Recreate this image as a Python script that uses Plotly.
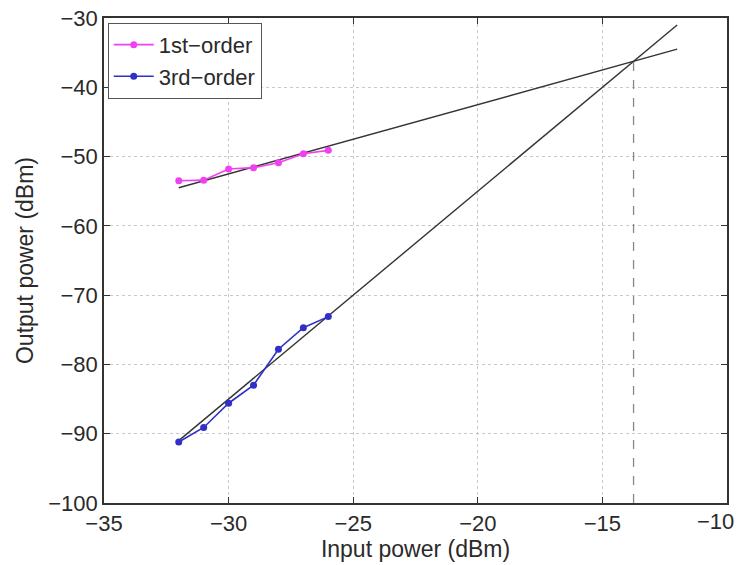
import plotly.graph_objects as go

input_power = [-32, -31, -30, -29, -28, -27, -26]
first_order = [-53.5, -53.4, -51.8, -51.6, -50.9, -49.6, -49.1]
third_order = [-91.2, -89.1, -85.6, -83.0, -77.8, -74.7, -73.1]

fit_x = [-32, -12]
fit1_y = [-54.5, -34.5]
fit3_y = [-91.0, -31.0]

ip3_x = [-13.75, -13.75]
ip3_y = [-100, -36.25]

x_ticks = [-35, -30, -25, -20, -15, -10]
y_ticks = [-100, -90, -80, -70, -60, -50, -40, -30]

FONT = "Liberation Sans, Arial, sans-serif"
TXT = "#2a2a2a"

fig = go.Figure()

fig.add_trace(go.Scatter(x=fit_x, y=fit1_y, mode="lines", line=dict(color="#333333", width=1.4),
                         showlegend=False, hoverinfo="skip"))
fig.add_trace(go.Scatter(x=fit_x, y=fit3_y, mode="lines", line=dict(color="#333333", width=1.4),
                         showlegend=False, hoverinfo="skip"))
fig.add_trace(go.Scatter(x=ip3_x, y=ip3_y, mode="lines",
                         line=dict(color="#888888", width=1.3, dash="dash"),
                         showlegend=False, hoverinfo="skip"))

fig.add_trace(go.Scatter(x=input_power, y=first_order, mode="lines+markers", name="1st\u2212order",
                         line=dict(color="#f040f0", width=1.6),
                         marker=dict(color="#f040f0", size=7, symbol="circle")))
fig.add_trace(go.Scatter(x=input_power, y=third_order, mode="lines+markers", name="3rd\u2212order",
                         line=dict(color="#3030c8", width=1.6),
                         marker=dict(color="#3030c8", size=7, symbol="circle")))

def tt(v):
    return ["\u2212" + str(abs(t)) for t in v]

axis_common = dict(
    showline=True, linecolor="#333333", linewidth=1.6, mirror="ticks",
    ticks="inside", ticklen=6, tickcolor="#333333",
    showgrid=True, gridcolor="#c8c8c8", griddash="dot", gridwidth=1,
    zeroline=False, automargin=False,
    tickfont=dict(family=FONT, size=22, color=TXT),
    title_font=dict(family=FONT, size=23, color=TXT),
)

x_labels = tt(x_ticks)
x_labels[-1] = ""
fig.update_xaxes(range=[-35, -10], tickvals=x_ticks, ticktext=x_labels,
                 title_text="Input power (dBm)", title_standoff=0, **axis_common)
fig.update_yaxes(range=[-100, -30], tickvals=y_ticks, ticktext=tt(y_ticks),
                 title_text="Output power (dBm)", title_standoff=8, **axis_common)

# right-most x tick label, pulled in so it stays inside the page edge
fig.add_annotation(x=x_ticks[-1], y=0, xref="x", yref="paper", yanchor="top", xanchor="right",
                   text=tt([x_ticks[-1]])[0], showarrow=False, yshift=-4, xshift=9,
                   font=dict(family=FONT, size=22, color=TXT))

fig.update_layout(
    width=738, height=565,
    margin=dict(l=104, r=11, t=18, b=62),
    paper_bgcolor="white", plot_bgcolor="white",
    font=dict(family=FONT, size=22, color=TXT),
    legend=dict(x=0.006, y=0.99, xanchor="left", yanchor="top",
                bgcolor="white", bordercolor="#555555", borderwidth=1,
                font=dict(size=22), tracegroupgap=0, itemwidth=40),
)

fig.write_html("out.html")
